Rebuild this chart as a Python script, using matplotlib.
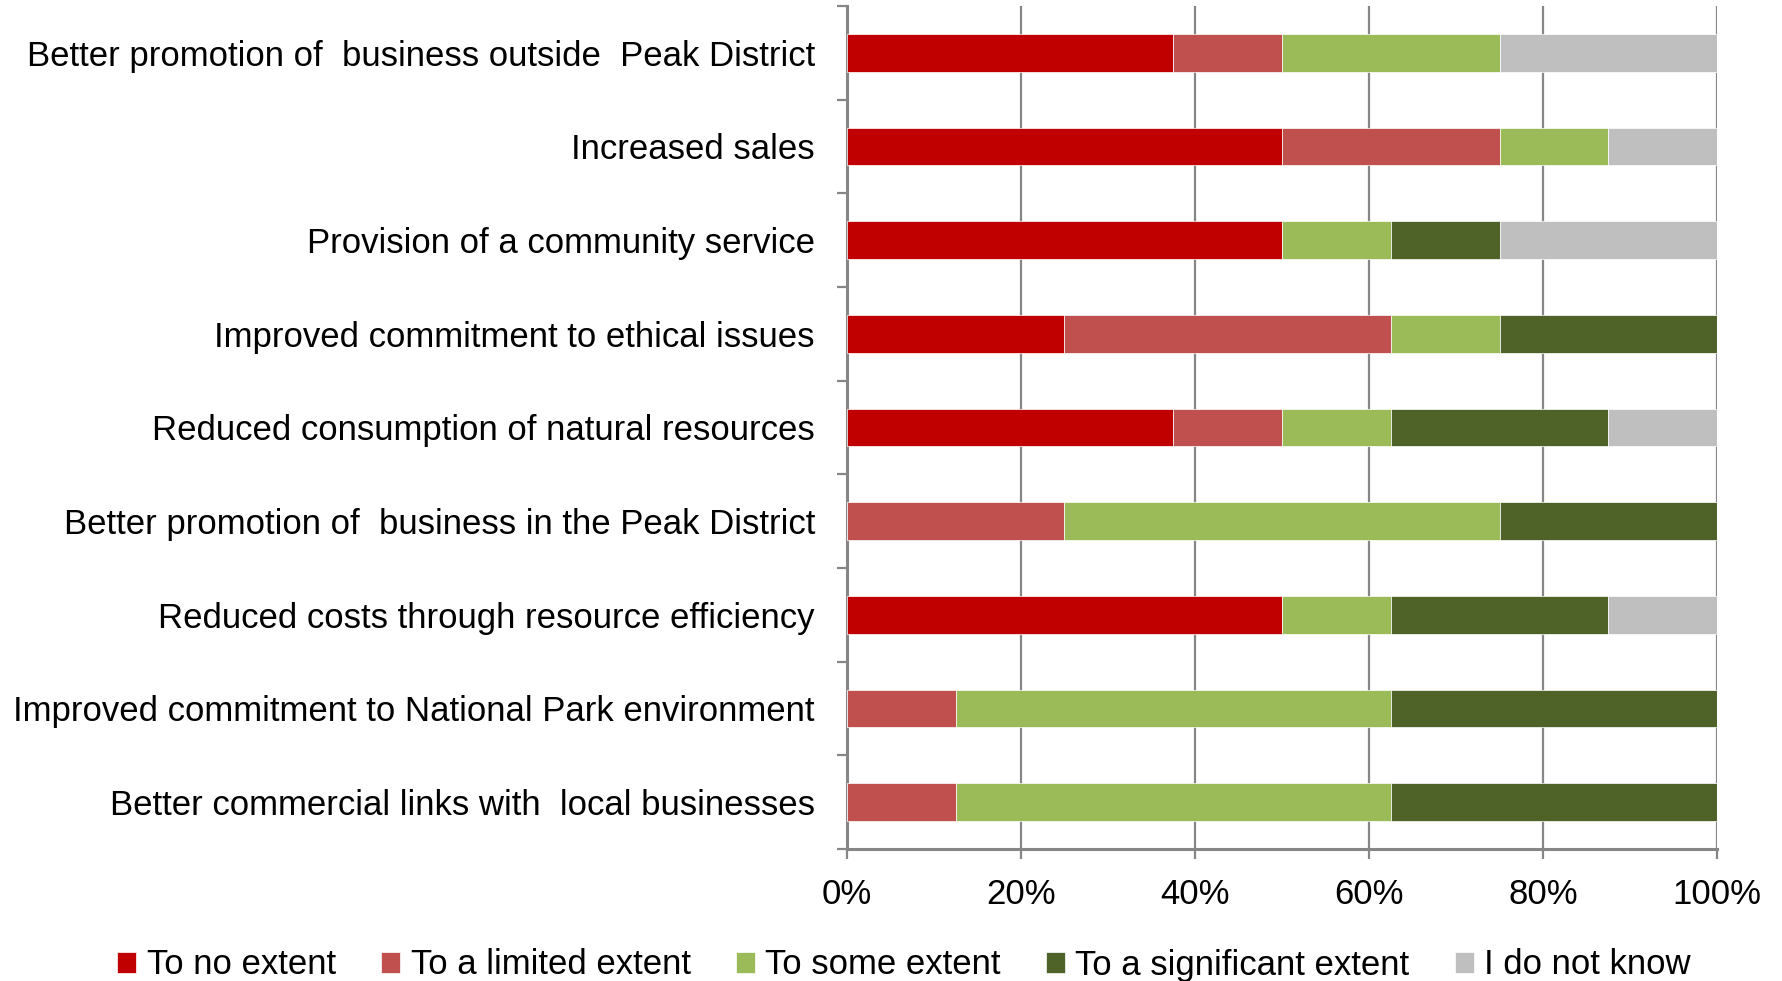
import matplotlib
matplotlib.use("Agg")
import matplotlib.pyplot as plt
import numpy as np

plt.rcParams['font.family'] = ['Liberation Sans', 'DejaVu Sans']

categories = [
    "Better promotion of  business outside  Peak District",
    "Increased sales",
    "Provision of a community service",
    "Improved commitment to ethical issues",
    "Reduced consumption of natural resources",
    "Better promotion of  business in the Peak District",
    "Reduced costs through resource efficiency",
    "Improved commitment to National Park environment",
    "Better commercial links with  local businesses",
]
series_names = ["To no extent", "To a limited extent", "To some extent",
                "To a significant extent", "I do not know"]
no_extent = [37.5, 50.0, 50.0, 25.0, 37.5, 0.0, 50.0, 0.0, 0.0]
limited = [12.5, 25.0, 0.0, 37.5, 12.5, 25.0, 0.0, 12.5, 12.5]
some = [25.0, 12.5, 12.5, 12.5, 12.5, 50.0, 12.5, 50.0, 50.0]
significant = [0.0, 0.0, 12.5, 25.0, 25.0, 25.0, 25.0, 37.5, 37.5]
dont_know = [25.0, 12.5, 25.0, 0.0, 12.5, 0.0, 12.5, 0.0, 0.0]
colors = ["#C00000", "#C0504D", "#9BBB59", "#4F6228", "#BFBFBF"]
x_ticks = [0, 20, 40, 60, 80, 100]
x_tick_labels = ["0%", "20%", "40%", "60%", "80%", "100%"]

fig = plt.figure(figsize=(17.83, 9.81), dpi=100)
ax = fig.add_axes([0.475, 0.1346, 0.963 - 0.475, 0.9939 - 0.1346])

y = np.arange(len(categories))
left = np.zeros(len(categories))
handles = []
for name, vals, c in zip(series_names, [no_extent, limited, some, significant, dont_know], colors):
    vals = np.array(vals)
    h = ax.barh(y, vals, left=left, height=0.4, color=c, edgecolor="white",
                linewidth=0.5, label=name, zorder=3)
    handles.append(h)
    left += vals

ax.set_xlim(0, 100)
ax.set_ylim(len(categories) - 0.5, -0.5)

grid_c = "#868686"
ax.set_xticks(x_ticks)
ax.set_xticklabels(x_tick_labels, fontsize=25)
ax.xaxis.grid(True, color=grid_c, linewidth=1.6, zorder=0)
ax.set_axisbelow(True)

# category boundaries carry the tick marks, centres carry the labels
ax.set_yticks(np.arange(len(categories) + 1) - 0.5)
ax.set_yticklabels([])
ax.set_yticks(y, minor=True)
ax.set_yticklabels(categories, minor=True, fontsize=25)
ax.tick_params(axis="y", which="minor", length=0, pad=23)
ax.tick_params(axis="y", which="major", length=7, width=1.6, color=grid_c)
ax.tick_params(axis="x", length=7, width=1.6, color=grid_c, pad=14)

for s in ["top", "right"]:
    ax.spines[s].set_visible(False)
for s in ["left", "bottom"]:
    ax.spines[s].set_color(grid_c)
    ax.spines[s].set_linewidth(2.2)

fig.legend(handles=handles, labels=series_names, loc="center",
           bbox_to_anchor=(0.507, 1 - 965 / 981), ncol=5, frameon=False,
           fontsize=25, handlelength=0.55, handleheight=0.55,
           handletextpad=0.3, columnspacing=1.3)

fig.savefig("out.png", dpi=100)
